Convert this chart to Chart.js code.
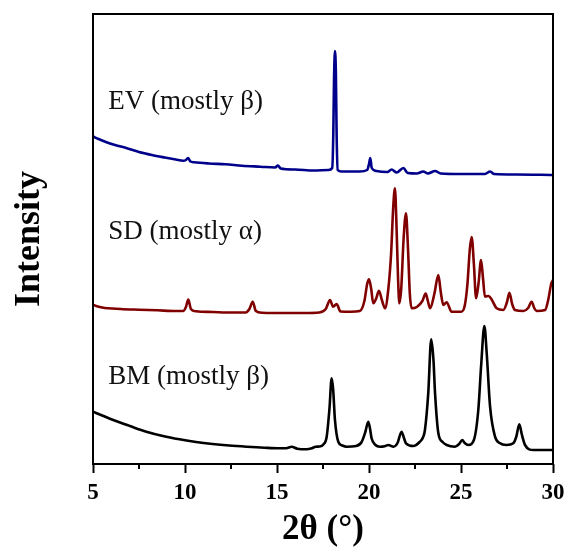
<!DOCTYPE html>
<html>
<head>
<meta charset="utf-8">
<script src="https://cdn.jsdelivr.net/npm/chart.js@4.4.0/dist/chart.umd.min.js"></script>
<style>
  html, body { margin: 0; padding: 0; background: #fff; }
  #wrap { width: 571px; height: 548px; }
</style>
</head>
<body>
<div id="wrap"><canvas id="xrd" width="571" height="548"></canvas></div>
<script>
// Powder XRD patterns, offset vertically (arbitrary intensity units)
const evTheta = [5.0, 5.3, 5.7, 6.2, 6.8, 7.5, 8.2, 8.9, 9.5, 9.9, 10.05, 10.16, 10.3, 10.5, 11.3, 12.2, 13.1, 14.1, 14.9, 15.05, 15.2, 16.0, 17.0, 17.8, 18.0, 18.06, 18.1, 18.15, 18.2, 18.24, 18.3, 18.5, 19.5, 19.9, 20.0, 20.07, 20.15, 20.4, 21.0, 21.23, 21.5, 21.87, 22.1, 22.6, 22.95, 23.2, 23.59, 23.9, 25.0, 26.3, 26.58, 26.8, 28.0, 30.0];
const evIntensity = [327.5, 325, 322, 319, 316, 312, 309, 306.5, 304.5, 303.3, 304, 306, 302.5, 301.7, 300.5, 299.7, 298.3, 297.3, 296.5, 298.5, 295.5, 294.5, 293.5, 294, 296, 330, 385, 413, 390, 330, 294, 292.5, 292.5, 294, 300, 306, 296, 293, 292, 294.5, 291.5, 296, 291, 290.5, 292.5, 290.5, 293, 290.5, 290, 290, 292.5, 290, 289.5, 289];

const sdTheta = [5.0, 5.5, 6.5, 7.5, 8.5, 9.5, 9.9, 10.05, 10.18, 10.32, 10.6, 11.5, 12.5, 13.3, 13.5, 13.68, 13.85, 14.2, 15.5, 16.5, 17.3, 17.65, 17.88, 18.05, 18.24, 18.45, 19.0, 19.5, 19.75, 19.9, 20.0, 20.12, 20.23, 20.4, 20.54, 20.7, 20.87, 21.05, 21.2, 21.32, 21.41, 21.5, 21.58, 21.65, 21.75, 21.88, 22.01, 22.12, 22.22, 22.32, 22.6, 22.9, 23.08, 23.2, 23.32, 23.55, 23.77, 23.9, 24.04, 24.22, 24.49, 25.0, 25.2, 25.35, 25.48, 25.58, 25.7, 25.82, 25.95, 26.09, 26.2, 26.3, 26.5, 26.65, 26.94, 27.3, 27.5, 27.63, 27.78, 27.93, 28.39, 28.65, 28.84, 28.98, 29.11, 29.57, 29.75, 29.9, 30.0];
const sdIntensity = [159, 156.5, 155, 154.3, 153.7, 153, 153, 157, 164.5, 155, 152.7, 152, 151.5, 151.5, 155, 162.3, 153, 151.3, 151, 151, 151.5, 155, 164, 157.3, 160, 152.5, 152.3, 153, 163, 180, 184.7, 175, 160.7, 166, 173.3, 164, 155.7, 175, 210, 258, 275.7, 235, 185, 160.7, 175, 225, 250.7, 215, 170, 155.7, 157, 163, 170.5, 163, 155.7, 170, 189, 172, 159, 161.7, 152.3, 152.3, 158, 180, 215, 227, 200, 165.7, 180, 204, 185, 167.3, 168, 165, 155.7, 154, 162, 171.3, 160, 154, 153, 156, 162.3, 156, 153, 154, 165, 180, 184];

const bmTheta = [5.0, 5.5, 6.1, 7.0, 7.9, 8.8, 9.7, 10.6, 11.5, 12.4, 13.35, 14.3, 15.16, 15.5, 15.8, 16.1, 16.61, 16.9, 17.1, 17.3, 17.52, 17.7, 17.85, 17.97, 18.05, 18.15, 18.33, 18.55, 18.78, 19.3, 19.6, 19.8, 19.96, 20.05, 20.14, 20.35, 20.6, 20.85, 21.05, 21.33, 21.55, 21.77, 21.9, 22.01, 22.41, 22.75, 22.95, 23.04, 23.22, 23.38, 23.5, 23.59, 23.77, 24.0, 24.22, 24.67, 24.9, 25.07, 25.2, 25.4, 25.7, 25.94, 26.1, 26.27, 26.4, 26.58, 26.85, 27.1, 27.48, 27.84, 28.0, 28.17, 28.3, 28.48, 28.93, 30.0];
const bmIntensity = [52.3, 48.5, 44, 38, 32.3, 28, 24.7, 22, 20, 18.5, 17.3, 16.3, 15.7, 15.8, 17.3, 15.3, 14.7, 15.8, 17.3, 17.5, 19.5, 27.3, 55, 85.7, 75, 44, 22.3, 18.5, 17.3, 18, 22, 32, 42.3, 36, 25.7, 19, 17.3, 17.8, 19, 17.3, 21, 32.3, 26, 20.7, 18, 22, 27.3, 34, 70.7, 124.7, 105, 70.7, 30.7, 22, 19, 17.3, 20, 24, 21, 19, 24, 54, 100, 138, 110, 57.3, 27.3, 21, 19, 20.7, 27, 39.7, 30, 19, 14, 14];

const sampleNames = ['EV (mostly \u03b2)', 'SD (mostly \u03b1)', 'BM (mostly \u03b2)'];
const sampleColors = ['#00008a', '#800000', '#000000'];
const xTickValues = [5, 10, 15, 20, 25, 30];

const toPoints = (xs, ys) => xs.map((x, i) => ({ x: x, y: ys[i] }));

// Where each sample name sits, in data coordinates
const nameAnchors = [
  { x: 5.83, y: 355.5 },
  { x: 5.83, y: 224.7 },
  { x: 5.83, y: 80 }
];

const framePlugin = {
  id: 'frame',
  afterDraw(chart) {
    const { ctx, chartArea: a, scales } = chart;
    ctx.save();
    // minor ticks halfway between the labelled ones
    ctx.strokeStyle = '#000';
    ctx.lineWidth = 2;
    for (let i = 0; i < xTickValues.length - 1; i++) {
      const px = Math.round(scales.x.getPixelForValue((xTickValues[i] + xTickValues[i + 1]) / 2));
      ctx.beginPath();
      ctx.moveTo(px, a.bottom);
      ctx.lineTo(px, a.bottom + 5);
      ctx.stroke();
    }
    // closed box around the plot
    ctx.strokeRect(a.left, a.top, a.right - a.left, a.bottom - a.top);
    // sample names
    ctx.fillStyle = '#111';
    ctx.font = '27px "Liberation Serif"';
    ctx.textAlign = 'left';
    ctx.textBaseline = 'alphabetic';
    nameAnchors.forEach((p, i) => {
      ctx.fillText(sampleNames[i], scales.x.getPixelForValue(p.x), scales.y.getPixelForValue(p.y));
    });
    ctx.restore();
  }
};

const makeSet = (label, xs, ys, color) => ({
  label: label,
  data: toPoints(xs, ys),
  borderColor: color,
  backgroundColor: color,
  borderWidth: 2.6,
  pointRadius: 0,
  fill: false,
  cubicInterpolationMode: 'monotone'
});

new Chart(document.getElementById('xrd'), {
  type: 'line',
  data: {
    datasets: [
      makeSet(sampleNames[0], evTheta, evIntensity, sampleColors[0]),
      makeSet(sampleNames[1], sdTheta, sdIntensity, sampleColors[1]),
      makeSet(sampleNames[2], bmTheta, bmIntensity, sampleColors[2])
    ]
  },
  options: {
    responsive: false,
    animation: false,
    devicePixelRatio: 1,
    layout: { padding: { top: 14, right: 18, left: 0, bottom: 0 } },
    plugins: { legend: { display: false }, tooltip: { enabled: false } },
    scales: {
      x: {
        type: 'linear',
        min: 5,
        max: 30,
        afterBuildTicks: (s) => { s.ticks = xTickValues.map(v => ({ value: v })); },
        afterFit: (s) => { s.height = 84; },
        ticks: {
          color: '#000',
          padding: 6,
          font: { family: 'Liberation Serif', size: 23, weight: 'bold' },
          maxRotation: 0
        },
        grid: {
          drawOnChartArea: false,
          drawTicks: true,
          tickLength: 9,
          tickWidth: 2,
          tickColor: '#000'
        },
        border: { display: false },
        title: {
          display: true,
          text: '2\u03b8 (\u00b0)',
          color: '#000',
          font: { family: 'Liberation Serif', size: 35, weight: 'bold', lineHeight: 1.05 },
          padding: { top: 0, bottom: 0 }
        }
      },
      y: {
        type: 'linear',
        min: 0,
        max: 450,
        afterFit: (s) => { s.width = 93; },
        ticks: { display: false },
        grid: { display: false },
        border: { display: false },
        title: {
          display: true,
          text: 'Intensity',
          color: '#000',
          font: { family: 'Liberation Serif', size: 36, weight: 'bold' },
          padding: { top: 8, bottom: 0 }
        }
      }
    }
  },
  plugins: [framePlugin]
});
</script>
</body>
</html>
